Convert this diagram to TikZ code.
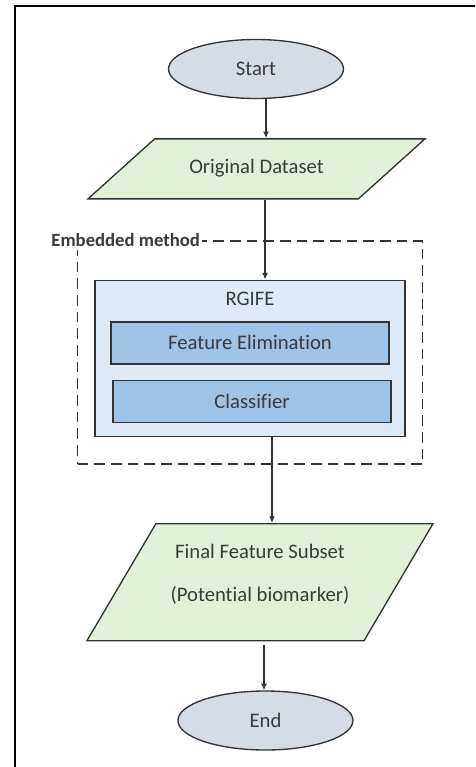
\documentclass[tikz,border=0pt]{standalone}
\usepackage{fontspec}
\setmainfont{Carlito}[Ligatures=NoCommon]
\usepackage{tikz}
\usetikzlibrary{arrows.meta, positioning, shapes.geometric}

\definecolor{termfill}{HTML}{D6DCE5}
\definecolor{iofill}{HTML}{E2F0D9}
\definecolor{rgifefill}{HTML}{DEEBF7}
\definecolor{modfill}{HTML}{9DC3E6}
\definecolor{edgegray}{HTML}{333333}
\definecolor{textgray}{HTML}{3A3A3A}

\begin{document}
\begin{tikzpicture}[
		terminal/.style={
			ellipse,
			draw=edgegray,
			line width=1pt,
			fill=termfill,
			minimum width=131.25pt,
			minimum height=44.25pt,
			text=textgray,
			font=\fontsize{15.5}{18.6}\selectfont
		},
		iobox/.style={
			trapezium,
			trapezium stretches body,
			draw=edgegray,
			line width=1pt,
			fill=iofill,
			inner xsep=0pt,
			text=textgray,
			align=center,
			font=\fontsize{15.5}{18.6}\selectfont
		},
		container/.style={
			rectangle,
			draw=edgegray,
			line width=1.1pt,
			fill=rgifefill,
			minimum width=232.5pt,
			minimum height=117pt
		},
		module/.style={
			rectangle,
			draw=edgegray,
			line width=1.1pt,
			fill=modfill,
			minimum width=208.5pt,
			minimum height=31.5pt,
			text=textgray,
			font=\fontsize{15.5}{18.6}\selectfont
		},
		grouping/.style={
			rectangle,
			draw=edgegray,
			line width=1.3pt,
			dash pattern=on 8pt off 4.5pt,
			minimum width=258.75pt,
			minimum height=167.25pt
		},
		arrow/.style={
			draw=edgegray,
			line width=1pt,
			-{Latex[length=5pt,width=4.5pt]},
		}
	]
	
	\useasboundingbox (0,0) rectangle (356.25pt,-575.25pt);
	\draw[line width=1.5pt] (11.25pt,-575.25pt) -- (11.25pt,-4.5pt) -- (356.25pt,-4.5pt);
	
	\node[terminal] (start) at (192pt,-51.75pt) {Start};
	\node[iobox, below=29.25pt of start, xshift=0.4pt,
		trapezium left angle=42, trapezium right angle=138,
		inner ysep=15pt, text height=11pt, text depth=4pt,
		minimum width=252.75pt] (data) {Original Dataset};
	\node[container, below=60pt of data, xshift=-4.9pt] (rgife) {};
	\node[text=textgray, font=\fontsize{15.5}{18.6}\selectfont] (rgifetitle) at ([yshift=-14.25pt]rgife.north) {RGIFE};
	\node[module] (elim) at ([yshift=11.6pt]rgife.center) {Feature Elimination};
	\node[module, below=11.25pt of elim, xshift=1.5pt] (clf) {Classifier};
	\node[grouping] (embedded) at ([yshift=4.1pt]rgife.center) {};
	\node[fill=white, inner sep=2pt, text=textgray, font=\bfseries\fontsize{14}{17}\selectfont] (embedlabel) at ([xshift=36.75pt]embedded.north west) {Embedded method};
	\node[iobox, below=64.5pt of rgife, xshift=7.5pt,
		trapezium left angle=59.5, trapezium right angle=120.5,
		inner ysep=15.25pt, text height=43.25pt, text depth=14pt,
		minimum width=259.5pt] (final) {Final Feature Subset\\[13.65pt](Potential biomarker)};
	\node[terminal, below=36.75pt of final, xshift=4.1pt] (end) {End};
	
	\draw[arrow] ([xshift=7.5pt]start.south) -- ([xshift=7.5pt]start.south |- data.north);
	\draw[arrow] ([xshift=6.4pt]data.south) -- ([xshift=6.4pt]data.south |- rgife.north);
	\draw[arrow] ([xshift=16.5pt]rgife.south) -- ([xshift=16.5pt]rgife.south |- final.north);
	\draw[arrow] ([xshift=3pt,yshift=-3pt]final.south) -- ([xshift=3pt]final.south |- end.north);
	
\end{tikzpicture}
\end{document}
